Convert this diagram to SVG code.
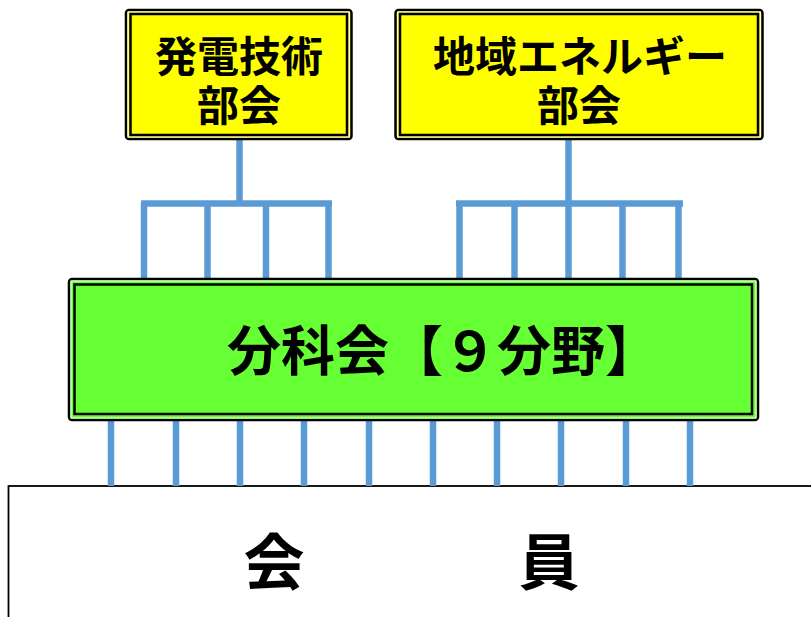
<svg xmlns="http://www.w3.org/2000/svg" width="811" height="617" viewBox="0 0 811 617">
<style>
.outer{stroke:#000;stroke-width:2.5}
.inner{fill:none;stroke:#000;stroke-width:2.5}
.gap{fill:none;stroke:#fff;stroke-width:1}
.yl{fill:#FFFF00}
.gr{fill:#66FF33}
.t{font-family:"Noto Sans CJK JP","Noto Sans CJK SC",sans-serif;font-weight:bold;fill:#000;text-anchor:middle;dominant-baseline:central}
.conn line{stroke:#5B9BD5;stroke-width:6.5;stroke-linecap:butt}
</style>
<rect width="811" height="617" fill="#fff"/>
<g id="members">
<rect x="8.5" y="486" width="810" height="140" fill="#fff" stroke="#000" stroke-width="1.8"/>
<text class="t" x="274" y="558" font-size="61">会</text>
<text class="t" x="549" y="558" font-size="61">員</text>
</g>
<g class="conn" id="connectors">
<line x1="239.5" y1="138" x2="239.5" y2="203"/>
<line x1="141" y1="203.5" x2="332" y2="203.5"/>
<line x1="144" y1="203" x2="144" y2="280"/>
<line x1="207.5" y1="203" x2="207.5" y2="280"/>
<line x1="266" y1="203" x2="266" y2="280"/>
<line x1="328.5" y1="203" x2="328.5" y2="280"/>
<line x1="568.5" y1="138" x2="568.5" y2="203"/>
<line x1="456" y1="203.5" x2="683" y2="203.5"/>
<line x1="459.5" y1="203" x2="459.5" y2="280"/>
<line x1="514.5" y1="203" x2="514.5" y2="280"/>
<line x1="568.5" y1="203" x2="568.5" y2="280"/>
<line x1="622.5" y1="203" x2="622.5" y2="280"/>
<line x1="678.5" y1="203" x2="678.5" y2="280"/>
<line x1="111" y1="420" x2="111" y2="486"/>
<line x1="176" y1="420" x2="176" y2="486"/>
<line x1="240" y1="420" x2="240" y2="486"/>
<line x1="304" y1="420" x2="304" y2="486"/>
<line x1="369" y1="420" x2="369" y2="486"/>
<line x1="433" y1="420" x2="433" y2="486"/>
<line x1="497" y1="420" x2="497" y2="486"/>
<line x1="561" y1="420" x2="561" y2="486"/>
<line x1="626" y1="420" x2="626" y2="486"/>
<line x1="690" y1="420" x2="690" y2="486"/>
</g>
<g id="hatsuden">
<rect class="yl outer" x="126" y="10" width="225.5" height="129" rx="3"/>
<rect class="gap" x="128" y="12" width="221.5" height="125"/>
<rect class="inner" x="130.5" y="14" width="216.5" height="121"/>
<text class="t" font-size="42"><tspan x="239" y="53">発電技術</tspan><tspan x="239" y="102">部会</tspan></text>
</g>
<g id="chiiki">
<rect class="yl outer" x="395.5" y="10" width="367" height="129" rx="3"/>
<rect class="gap" x="397.5" y="12" width="363" height="125"/>
<rect class="inner" x="400" y="14" width="358" height="121"/>
<text class="t" font-size="42"><tspan x="580" y="53">地域エネルギー</tspan><tspan x="579" y="102">部会</tspan></text>
</g>
<g id="bunkakai">
<rect class="gr outer" x="69" y="279" width="689" height="141" rx="3"/>
<rect class="gap" x="71" y="281" width="685" height="137"/>
<rect class="inner" x="74.5" y="284.5" width="677.5" height="129.5"/>
<text class="t" x="227" y="347" font-size="54" style="text-anchor:start">分科会【９分野】</text>
</g>
</svg>
